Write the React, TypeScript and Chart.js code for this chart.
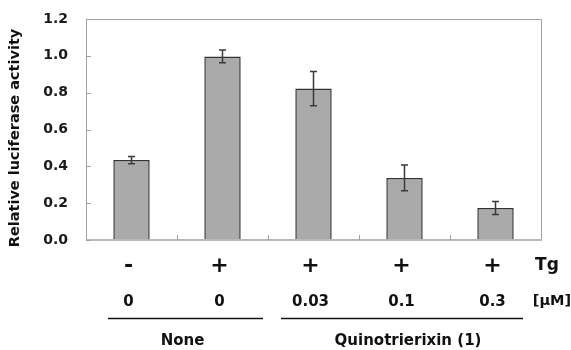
import React, { useEffect, useRef } from "react";
import { Chart, registerables } from "chart.js";

Chart.register(...registerables);

const categories = ["-/0", "+/0", "+/0.03", "+/0.1", "+/0.3"];
const tgLabels = ["-", "+", "+", "+", "+"];
const doseLabels = ["0", "0", "0.03", "0.1", "0.3"];
const values = [0.434, 0.997, 0.822, 0.337, 0.174];
const errors = [0.02, 0.035, 0.093, 0.07, 0.035];
const groupNames = ["None", "Quinotrierixin (1)"];
const groupStart = [0, 2];
const groupEnd = [1, 4];
const yTicks = [0, 0.2, 0.4, 0.6, 0.8, 1.0, 1.2];

const FONT = "'DejaVu Sans', sans-serif";

const decorPlugin = {
  id: "decor",
  afterDatasetsDraw(chart: any) {
    const { ctx, chartArea } = chart;
    const x = chart.scales.x;
    const y = chart.scales.y;
    ctx.save();
    // frame
    ctx.strokeStyle = "#a0a0a0";
    ctx.lineWidth = 1;
    ctx.beginPath();
    ctx.moveTo(chartArea.left + 0.5, chartArea.bottom);
    ctx.lineTo(chartArea.left + 0.5, chartArea.top + 0.5);
    ctx.lineTo(chartArea.right + 0.5, chartArea.top + 0.5);
    ctx.lineTo(chartArea.right + 0.5, chartArea.bottom);
    ctx.stroke();
    ctx.strokeStyle = "#b8b8b8";
    ctx.lineWidth = 2;
    ctx.beginPath();
    ctx.moveTo(chartArea.left, chartArea.bottom);
    ctx.lineTo(chartArea.right + 1, chartArea.bottom);
    ctx.stroke();
    // left inward ticks
    ctx.strokeStyle = "#a0a0a0";
    ctx.lineWidth = 1;
    yTicks.forEach((v) => {
      const py = Math.round(y.getPixelForValue(v)) + 0.5;
      ctx.beginPath();
      ctx.moveTo(chartArea.left, py);
      ctx.lineTo(chartArea.left + 5, py);
      ctx.stroke();
    });
    // bottom ticks between categories
    for (let i = 0; i < categories.length - 1; i++) {
      const px = Math.round((x.getPixelForValue(i) + x.getPixelForValue(i + 1)) / 2) + 0.5;
      ctx.beginPath();
      ctx.moveTo(px, chartArea.bottom);
      ctx.lineTo(px, chartArea.bottom - 5);
      ctx.stroke();
    }
    // error bars
    ctx.strokeStyle = "#3a3a3a";
    ctx.lineWidth = 1.5;
    values.forEach((v, i) => {
      const px = x.getPixelForValue(i);
      const top = y.getPixelForValue(v + errors[i]);
      const bot = y.getPixelForValue(v - errors[i]);
      ctx.beginPath();
      ctx.moveTo(px, top);
      ctx.lineTo(px, bot);
      ctx.moveTo(px - 3.5, top);
      ctx.lineTo(px + 3.5, top);
      ctx.moveTo(px - 3.5, bot);
      ctx.lineTo(px + 3.5, bot);
      ctx.stroke();
    });

    // y title
    ctx.fillStyle = "#111";
    ctx.font = `bold 14.5px ${FONT}`;
    ctx.textAlign = "center";
    ctx.textBaseline = "middle";
    ctx.save();
    ctx.translate(15, 138);
    ctx.rotate(-Math.PI / 2);
    ctx.fillText("Relative luciferase activity", 0, 0);
    ctx.restore();

    // Tg row
    ctx.font = `bold 22px ${FONT}`;
    tgLabels.forEach((t, i) => {
      ctx.fillText(t, x.getPixelForValue(i) - 3, 266);
    });
    ctx.font = `bold 17px ${FONT}`;
    ctx.fillText("Tg", 547, 266);
    // dose row
    ctx.font = `bold 15px ${FONT}`;
    doseLabels.forEach((t, i) => {
      ctx.fillText(t, x.getPixelForValue(i) - 3, 302);
    });
    ctx.font = `bold 14.5px ${FONT}`;
    ctx.fillText("[\u03bcM]", 552, 301);
    // group lines & names
    ctx.strokeStyle = "#111";
    ctx.lineWidth = 1.5;
    ctx.font = `bold 15px ${FONT}`;
    const startOff = [-23.5, -32.5];
    const endOff = [40.5, 27.5];
    groupNames.forEach((g, k) => {
      const x0 = x.getPixelForValue(groupStart[k]) + startOff[k];
      const x1 = x.getPixelForValue(groupEnd[k]) + endOff[k];
      ctx.beginPath();
      ctx.moveTo(x0, 318.5);
      ctx.lineTo(x1, 318.5);
      ctx.stroke();
      ctx.fillText(g, (x0 + x1) / 2 + (k === 0 ? -3 : 6), 341);
    });
    ctx.restore();
  },
};

export default function App() {
  const ref = useRef<HTMLCanvasElement>(null);
  useEffect(() => {
    document.body.style.margin = "0";
    const chart = new Chart(ref.current!, {
      type: "bar",
      data: {
        labels: categories,
        datasets: [
          {
            data: values,
            backgroundColor: "#aaaaaa",
            borderColor: "#333333",
            borderWidth: 1.5,
            barPercentage: 0.4,
            categoryPercentage: 1.0,
          },
        ],
      },
      options: {
        animation: false,
        responsive: true,
        maintainAspectRatio: false,
        layout: { padding: { left: 0, right: 30, top: 19, bottom: 0 } },
        plugins: { legend: { display: false }, tooltip: { enabled: false } },
        scales: {
          x: {
            grid: { display: false, drawTicks: false },
            border: { display: false },
            ticks: { display: false },
            afterFit(scale: any) {
              scale.height = 110;
            },
          },
          y: {
            min: 0,
            max: 1.2,
            grid: { display: false, drawTicks: false },
            border: { display: false },
            afterBuildTicks(scale: any) {
              scale.ticks = yTicks.map((v) => ({ value: v }));
            },
            ticks: {
              padding: 18,
              color: "#1a1a1a",
              font: { family: FONT, size: 14, weight: "bold" },
              callback: (v: any) => Number(v).toFixed(1),
            },
            afterFit(scale: any) {
              scale.width = 86;
              scale.paddingTop = 0;
              scale.paddingBottom = 0;
            },
          },
        },
      },
      plugins: [decorPlugin],
    });
    return () => chart.destroy();
  }, []);
  return (
    <div style={{ width: 571, height: 350, position: "relative" }}>
      <canvas ref={ref} />
    </div>
  );
}
